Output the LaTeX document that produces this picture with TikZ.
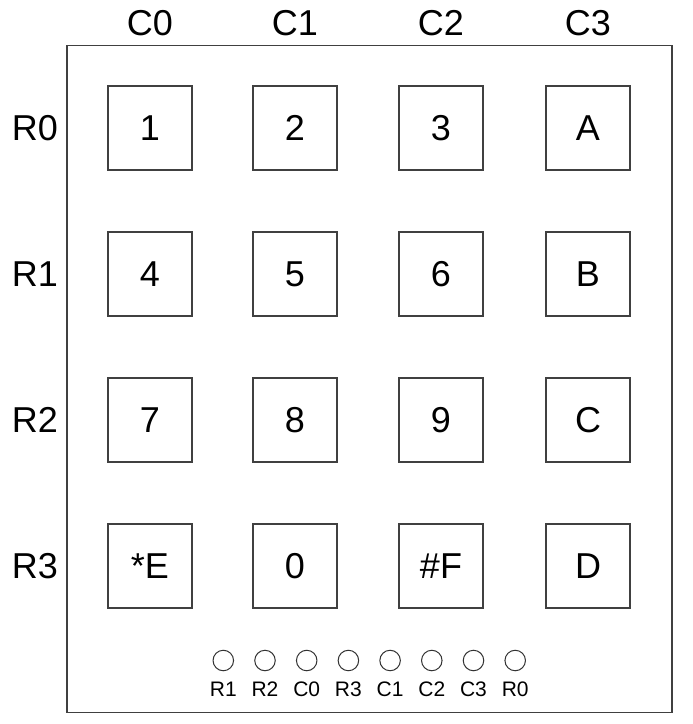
\documentclass[tikz,border=0pt]{standalone}
\usepackage{amsmath}
\usepackage{amssymb}
\usepackage{fontspec}
\setmainfont{Liberation Sans}
\usepackage{tikz}

\begin{document}
\begin{tikzpicture}[x=1pt,y=-1pt]
\useasboundingbox (0,0) rectangle (693,724);
\node[draw=black!75,line width=1.1pt,minimum width=605,minimum height=667,inner sep=0] (board) at (369.5,379) {};
\node[font=\fontsize{36}{36}\selectfont] (c0) at (150,23) {C0};
\node[font=\fontsize{36}{36}\selectfont] (c1) at (295,23) {C1};
\node[font=\fontsize{36}{36}\selectfont] (c2) at (441,23) {C2};
\node[font=\fontsize{36}{36}\selectfont] (c3) at (588,23) {C3};
\node[font=\fontsize{36}{36}\selectfont] (r0) at (35,128) {R0};
\node[font=\fontsize{36}{36}\selectfont] (r1) at (35,274) {R1};
\node[font=\fontsize{36}{36}\selectfont] (r2) at (35,420) {R2};
\node[font=\fontsize{36}{36}\selectfont] (r3) at (35,566) {R3};
\node[draw=black!75,line width=1.1pt,minimum size=84,inner sep=0,font=\fontsize{36}{36}\selectfont] (1) at (150,128) {1};
\node[draw=black!75,line width=1.1pt,minimum size=84,inner sep=0,font=\fontsize{36}{36}\selectfont] (2) at (295,128) {2};
\node[draw=black!75,line width=1.1pt,minimum size=84,inner sep=0,font=\fontsize{36}{36}\selectfont] (3) at (441,128) {3};
\node[draw=black!75,line width=1.1pt,minimum size=84,inner sep=0,font=\fontsize{36}{36}\selectfont] (4) at (588,128) {A};
\node[draw=black!75,line width=1.1pt,minimum size=84,inner sep=0,font=\fontsize{36}{36}\selectfont] (5) at (150,274) {4};
\node[draw=black!75,line width=1.1pt,minimum size=84,inner sep=0,font=\fontsize{36}{36}\selectfont] (6) at (295,274) {5};
\node[draw=black!75,line width=1.1pt,minimum size=84,inner sep=0,font=\fontsize{36}{36}\selectfont] (7) at (441,274) {6};
\node[draw=black!75,line width=1.1pt,minimum size=84,inner sep=0,font=\fontsize{36}{36}\selectfont] (8) at (588,274) {B};
\node[draw=black!75,line width=1.1pt,minimum size=84,inner sep=0,font=\fontsize{36}{36}\selectfont] (9) at (150,420) {7};
\node[draw=black!75,line width=1.1pt,minimum size=84,inner sep=0,font=\fontsize{36}{36}\selectfont] (10) at (295,420) {8};
\node[draw=black!75,line width=1.1pt,minimum size=84,inner sep=0,font=\fontsize{36}{36}\selectfont] (11) at (441,420) {9};
\node[draw=black!75,line width=1.1pt,minimum size=84,inner sep=0,font=\fontsize{36}{36}\selectfont] (12) at (588,420) {C};
\node[draw=black!75,line width=1.1pt,minimum size=84,inner sep=0,font=\fontsize{36}{36}\selectfont] (13) at (150,566) {*E};
\node[draw=black!75,line width=1.1pt,minimum size=84,inner sep=0,font=\fontsize{36}{36}\selectfont] (14) at (295,566) {0};
\node[draw=black!75,line width=1.1pt,minimum size=84,inner sep=0,font=\fontsize{36}{36}\selectfont] (15) at (441,566) {\#F};
\node[draw=black!75,line width=1.1pt,minimum size=84,inner sep=0,font=\fontsize{36}{36}\selectfont] (16) at (588,566) {D};
\node[shape=circle,draw=black!80,line width=1pt,minimum size=20.5,inner sep=0] (p1) at (223.3,660.5) {};
\node[shape=circle,draw=black!80,line width=1pt,minimum size=20.5,inner sep=0] (p2) at (265,660.5) {};
\node[shape=circle,draw=black!80,line width=1pt,minimum size=20.5,inner sep=0] (p3) at (306.7,660.5) {};
\node[shape=circle,draw=black!80,line width=1pt,minimum size=20.5,inner sep=0] (p4) at (348.4,660.5) {};
\node[shape=circle,draw=black!80,line width=1pt,minimum size=20.5,inner sep=0] (p5) at (390.1,660.5) {};
\node[shape=circle,draw=black!80,line width=1pt,minimum size=20.5,inner sep=0] (p6) at (431.8,660.5) {};
\node[shape=circle,draw=black!80,line width=1pt,minimum size=20.5,inner sep=0] (p7) at (473.5,660.5) {};
\node[shape=circle,draw=black!80,line width=1pt,minimum size=20.5,inner sep=0] (p8) at (515.2,660.5) {};
\node[font=\fontsize{21}{21}\selectfont] (l1) at (223.3,689) {R1};
\node[font=\fontsize{21}{21}\selectfont] (l2) at (265,689) {R2};
\node[font=\fontsize{21}{21}\selectfont] (l3) at (306.7,689) {C0};
\node[font=\fontsize{21}{21}\selectfont] (l4) at (348.4,689) {R3};
\node[font=\fontsize{21}{21}\selectfont] (l5) at (390.1,689) {C1};
\node[font=\fontsize{21}{21}\selectfont] (l6) at (431.8,689) {C2};
\node[font=\fontsize{21}{21}\selectfont] (l7) at (473.5,689) {C3};
\node[font=\fontsize{21}{21}\selectfont] (l8) at (515.2,689) {R0};
\end{tikzpicture}
\end{document}
